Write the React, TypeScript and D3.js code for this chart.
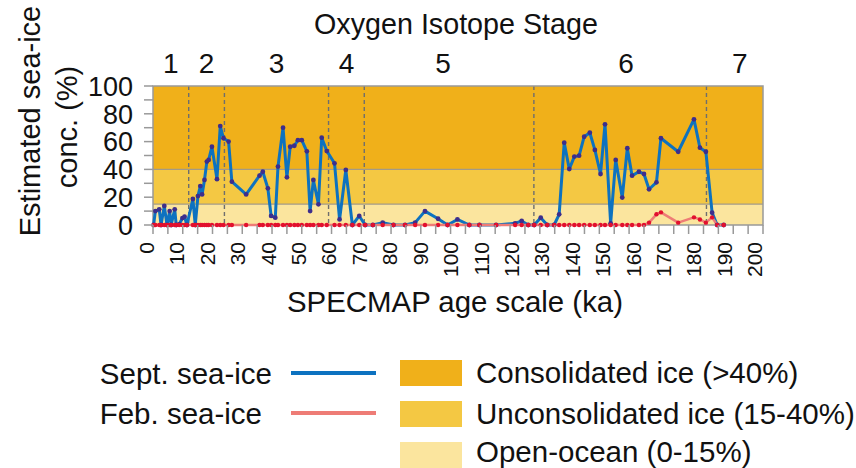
import React from 'react';
import * as d3 from 'd3';

// SPECMAP ages (ka) of the samples, shared by both series
const ages = [
  0.2, 0.8, 2.1, 2.7, 3.8, 4.7, 5.6, 6.1, 7.3, 7.8, 8.8, 9.9, 10.6, 11.4,
  13.4, 14.2, 15.1, 15.9, 16.5, 17.3, 18.1, 18.7, 19.8, 21.5, 22.6, 23.7,
  25.4, 26.5, 31.3, 35.8, 36.9, 38.6, 39.7, 41.1, 42, 43.7, 45, 46.1, 47.5,
  48.7, 50, 51.7, 52.8, 53.9, 55.6, 56.7, 58.4, 61, 62.7, 64.8, 67, 69.3,
  71.3, 73.9, 77.2, 80.8, 84.7, 88.1, 91.4, 95.8, 99, 102.3, 106.3, 109.7,
  115.3, 121.7, 123.9, 126.1, 128.1, 130.3, 132.5, 134.8, 136.5, 138.2,
  139.9, 141.6, 143.2, 144.9, 146.8, 148.5, 150.4, 151.9, 153.8, 155.5,
  157.7, 159.4, 161, 163.3, 165, 166.7, 169.2, 170.7, 176.5, 181.8, 183.8,
  185.8, 187.9, 189.6, 191.8,
];

const septIce = [
  0, 10, 11.3, 0, 13.7, 0, 10, 0, 11.3, 0, 0.5, 5, 6, 0,
  18.7, 0, 20.8, 28, 22, 32.4, 45.6, 46.8, 56.3, 33, 71.2, 62.4,
  60, 31.2, 22, 35.5, 38.3, 26.4, 6.5, 5.3, 42, 70, 34.3, 56.3, 57,
  61, 61, 53, 10, 32.4, 14.9, 62.8, 53.2, 44.4, 4, 39.6, 0, 6.5,
  0, 0, 1.7, 0, 0, 1.7, 10, 4.5, 0, 4, 0, 0,
  0, 1.2, 2.9, 0, 0, 5.3, 0, 0, 7.7, 59.2,
  40.3, 49.2, 49.9, 63.5, 66.4, 54, 36.7, 72.4, 1.2, 46.8,
  19.7, 55.2, 35.5, 38.3, 36.7, 25.7, 30.7, 62.4, 52.7, 76, 55.6,
  52.7, 8.9, 0, 0,
];

const febIce = ages.map(() => 0);
// winter values only depart from zero late in stage 6
const febNonZero: [number, number][] = [
  [166.7, 1.7], [169.2, 7.7], [170.7, 9.1], [176.5, 1.7],
  [181.8, 5.5], [183.8, 4], [185.8, 1.7], [187.9, 5.5],
];
febNonZero.forEach(([a, v]) => { febIce[ages.indexOf(a)] = v; });

const stageBounds = [12, 24, 59, 71, 128, 186];
const stageNames = ['1', '2', '3', '4', '5', '6', '7'];
const stageLabelAges = [6, 18, 41.5, 65, 97.5, 159, 197.2];

const bands = [
  { name: 'Consolidated ice (>40%)', lo: 40, hi: 100, color: '#F0B01A' },
  { name: 'Unconsolidated ice (15-40%)', lo: 15, hi: 40, color: '#F4C843' },
  { name: 'Open-ocean (0-15%)', lo: 0, hi: 15, color: '#FBE59E' },
];

const xTicks = d3.range(0, 201, 10);
const xMinor = d3.range(0, 206, 5);
const yTicks = d3.range(0, 101, 20);
const yMinor = d3.range(0, 101, 10);

const FONT = '"Liberation Sans", Arial, sans-serif';
const BLUE = '#0D72C0';
const RED = '#EE7C76';

export default function App() {
  const left = 153, right = 763, top = 86, bottom = 225;
  const x = d3.scaleLinear().domain([0, 205]).range([left, right]);
  const y = d3.scaleLinear().domain([0, 100]).range([bottom, top]);
  // tick labels sit slightly spread out relative to the tick marks
  const xLab = (t: number) => x(100) + (x(t) - x(100)) * 1.022;

  const line = d3.line<number>()
    .x((_, i) => x(ages[i]))
    .y(d => y(d));

  return (
    <svg width={856} height={468} style={{ position: 'absolute', left: 0, top: 0, fontFamily: FONT }}>
      <rect width={856} height={468} fill="#fff" />

      {/* background bands */}
      {bands.map(b => (
        <rect key={b.name} x={left} y={y(b.hi)} width={right - left} height={y(b.lo) - y(b.hi)} fill={b.color} />
      ))}
      {[40, 15].map(v => (
        <line key={v} x1={left} x2={right} y1={y(v)} y2={y(v)} stroke="#A39A86" strokeWidth={1.2} />
      ))}

      {/* stage boundaries */}
      {stageBounds.map(b => (
        <line key={b} x1={x(b)} x2={x(b)} y1={top} y2={bottom} stroke="#6E6E6E" strokeWidth={1.4} strokeDasharray="4,3" />
      ))}

      {/* frame */}
      <path d={`M${left},${bottom}V${top}H${right}V${bottom}H${left}`} fill="none" stroke="#999" strokeWidth={1.5} />

      {/* series */}
      <path d={line(septIce) || ''} fill="none" stroke={BLUE} strokeWidth={3} strokeLinejoin="round" />
      <path d={line(febIce) || ''} fill="none" stroke={RED} strokeWidth={2.5} strokeLinejoin="round" />
      {septIce.map((v, i) => (
        <circle key={'s' + i} cx={x(ages[i])} cy={y(v)} r={2.4} fill="#3D2E8C" />
      ))}
      {febIce.map((v, i) => (
        <circle key={'f' + i} cx={x(ages[i])} cy={y(v)} r={2.2} fill="#E2102E" />
      ))}

      {/* y axis */}
      {yMinor.map(t => (
        <line key={t} x1={left - 9} x2={left} y1={y(t)} y2={y(t)} stroke="#999" strokeWidth={1.5} />
      ))}
      {yTicks.map(t => (
        <text key={t} x={133} y={y(t)} dy="0.36em" textAnchor="end" fontSize={27} fill="#111">{t}</text>
      ))}
      <text transform={`translate(40,121) rotate(-90)`} textAnchor="middle" fontSize={29} fill="#111">Estimated sea-ice</text>
      <text transform={`translate(77,127) rotate(-90)`} textAnchor="middle" fontSize={29} fill="#111">conc. (%)</text>

      {/* x axis */}
      {xMinor.map(t => (
        <line key={t} x1={x(t)} x2={x(t)} y1={bottom} y2={bottom + 9} stroke="#999" strokeWidth={1.5} />
      ))}
      {xTicks.map(t => (
        <text key={t} transform={`translate(${xLab(t)},242) rotate(-90)`} dy="0.36em" textAnchor="end" fontSize={21} fill="#111">{t}</text>
      ))}
      <text x={455} y={312} textAnchor="middle" fontSize={29.4} fill="#111">SPECMAP age scale (ka)</text>

      {/* stage labels */}
      <text x={456} y={34} textAnchor="middle" fontSize={28.7} fill="#111">Oxygen Isotope Stage</text>
      {stageNames.map((s, i) => (
        <text key={s} x={x(stageLabelAges[i])} y={73} textAnchor="middle" fontSize={28} fill="#111">{s}</text>
      ))}

      {/* legend */}
      <text x={272} y={384} textAnchor="end" fontSize={29.5} fill="#111">Sept. sea-ice</text>
      <line x1={291} x2={376} y1={373} y2={373} stroke={BLUE} strokeWidth={4} />
      <text x={262} y={424} textAnchor="end" fontSize={29.5} fill="#111">Feb. sea-ice</text>
      <line x1={291} x2={376} y1={413} y2={413} stroke={RED} strokeWidth={4} />
      {bands.map((b, i) => (
        <g key={b.name} transform={`translate(400,${360 + i * 41})`}>
          <rect width={62} height={i === 2 ? 27 : 26} fill={b.color} />
          <text x={76} y={i === 2 ? 20 : 23} fontSize={29.5} fill="#111">{b.name}</text>
        </g>
      ))}
    </svg>
  );
}
